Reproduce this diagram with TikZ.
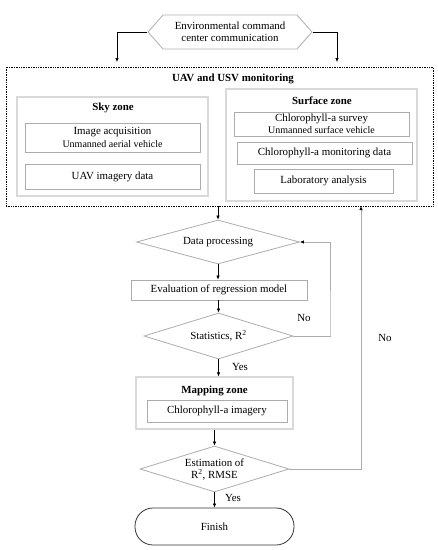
\documentclass[tikz,border=0pt]{standalone}
\usepackage{fontspec}
\setmainfont{Liberation Serif}
\usetikzlibrary{shapes.geometric,shapes.symbols,arrows.meta}

\begin{document}
\begin{tikzpicture}[x=1pt,y=-1pt,
  every node/.style={font=\fontsize{10.9}{12}\selectfont, inner sep=0pt, align=center},
  box/.style={draw=gray!65, line width=0.8pt},
  zone/.style={draw=gray!30, line width=1.2pt},
  dec/.style={draw=gray!65, line width=0.8pt, diamond},
  arr/.style={-{Latex[length=4pt,width=3.5pt]}, line width=0.6pt},
  loopline/.style={draw=gray!65, line width=0.8pt, -{Latex[length=4pt,width=3.5pt,fill=black,color=black]}},
  small/.style={font=\fontsize{10}{11}\selectfont},
  ttl/.style={font=\fontsize{10.9}{12}\selectfont\bfseries}]
  \useasboundingbox (0,0) rectangle (438,550);
  \node[draw=gray!65, line width=0.8pt, signal, signal to=west and east, signal pointer angle=97,
    minimum width=164pt, minimum height=34pt] (env) at (230,32) {Environmental command\\center communication};
  \node[draw, densely dotted, line width=0.7pt, minimum width=427pt, minimum height=139pt] (uav) at (219.5,136.5) {};
  \node[ttl] (uavt) at (233,79) {UAV and USV monitoring};
  \node[zone, minimum width=191pt, minimum height=99pt] (sky) at (112.5,146.5) {};
  \node[ttl] (skyt) at (113,108) {Sky zone};
  \node[box, minimum width=175pt, minimum height=29pt] (acq) at (112.5,137.5) {Image acquisition\\[1pt]{\fontsize{10}{11}\selectfont Unmanned aerial vehicle}};
  \node[box, minimum width=175pt, minimum height=25pt] (uavdata) at (112.5,176.5) {UAV imagery data};
  \node[zone, minimum width=191pt, minimum height=112pt] (surf) at (321.5,145) {};
  \node[ttl] (surft) at (322,101) {Surface zone};
  \node[box, minimum width=175pt, minimum height=24pt] (survey) at (321.5,124) {Chlorophyll-a survey\\{\fontsize{10}{11}\selectfont Unmanned surface vehicle}};
  \node[box, minimum width=175pt, minimum height=22pt] (mondata) at (324.5,153) {Chlorophyll-a monitoring data};
  \node[box, minimum width=139pt, minimum height=24pt] (lab) at (323.5,181) {Laboratory analysis};
  \node[dec, aspect=3.7, minimum width=163pt, minimum height=44pt] (proc) at (218,242) {Data processing};
  \node[box, minimum width=176pt, minimum height=20pt] (eval) at (219,290) {Evaluation of regression model};
  \node[dec, aspect=3.24, minimum width=149pt, minimum height=46pt] (stat) at (218.5,336) {Statistics, R\textsuperscript{2}};
  \node[zone, minimum width=157pt, minimum height=52pt] (map) at (214.5,403) {};
  \node[ttl] (mapt) at (214.5,391) {Mapping zone};
  \node[box, minimum width=140pt, minimum height=22pt] (chlimg) at (217,411) {Chlorophyll-a imagery};
  \node[dec, aspect=3.24, minimum width=149pt, minimum height=46pt] (est) at (214.5,469) {Estimation of\\R\textsuperscript{2}, RMSE};
  \node[draw=black!80, line width=0.8pt, rounded corners=18pt, minimum width=159pt, minimum height=37pt] (fin) at (214.5,526.5) {Finish};
  \node (no1) at (304,318) {No};
  \node (no2) at (385,338) {No};
  \node (yes1) at (240,367) {Yes};
  \node (yes2) at (233,498) {Yes};
  \coordinate (skyin) at (117,62);
  \coordinate (surfin) at (337,62);
  \coordinate (loopc) at (330,337);
  \coordinate (backc) at (361,206);
  \draw[arr] (env.west) -| (skyin);
  \draw[arr] (env.east) -| (surfin);
  \draw[arr] (uav.south -| proc.north) -- (proc.north);
  \draw[arr] (proc.south) -- (proc.south |- eval.north);
  \draw[arr] (stat.north |- eval.south) -- (stat.north);
  \draw[arr] (stat.south) -- (stat.south |- map.north);
  \draw[arr] (map.south) -- (est.north);
  \draw[arr] (est.south) -- (fin.north);
  \draw[loopline] (stat.east) -| (loopc) |- (proc.east);
  \draw[loopline] (est.east) -| (backc);
\end{tikzpicture}
\end{document}
